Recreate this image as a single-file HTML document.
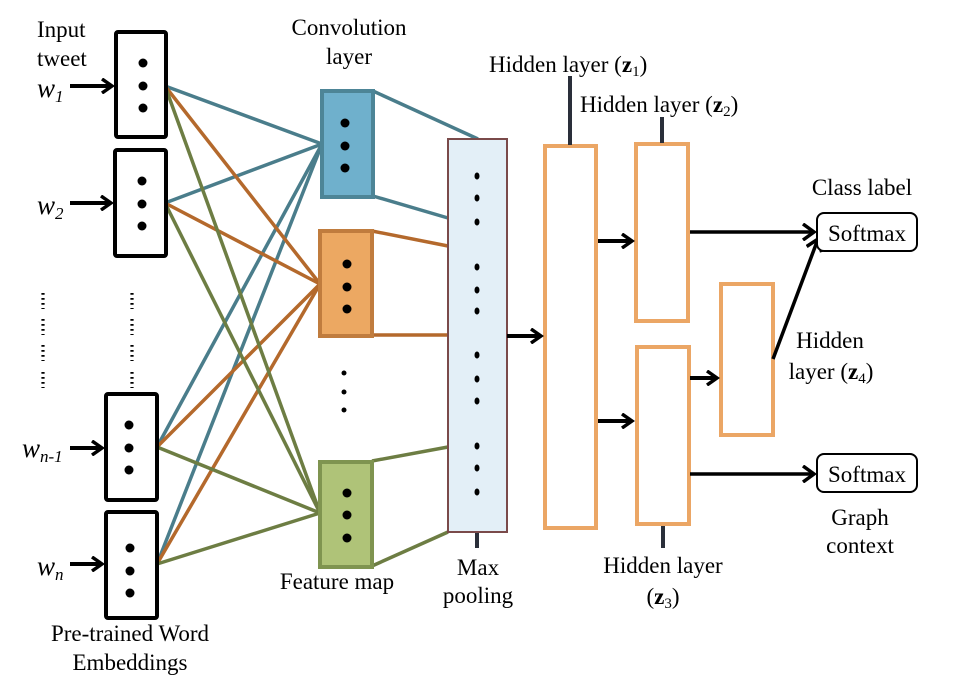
<!DOCTYPE html>
<html><head><meta charset="utf-8"><style>
html,body{margin:0;padding:0;background:#fff;}
#wrap{position:relative;width:972px;height:682px;overflow:hidden;}
svg{display:block;position:absolute;left:0;top:0;}
.t{position:absolute;font-family:"Liberation Serif","Times New Roman",serif;font-size:23px;line-height:23px;color:#000;white-space:nowrap;}
.c{width:200px;text-align:center;}
.w{font-style:italic;font-size:27px;line-height:27px;}
.w span{font-size:17px;position:relative;top:5px;}
.s{font-size:15px;position:relative;top:4px;}
b{font-weight:bold;}
</style></head><body>
<div id="wrap">
<svg width="972" height="682" viewBox="0 0 972 682" xmlns="http://www.w3.org/2000/svg">
<defs>
<marker id="ah" markerWidth="14" markerHeight="16" refX="11" refY="8" orient="auto" markerUnits="userSpaceOnUse">
<path d="M1,1 L11,8 L1,15" fill="none" stroke="#000" stroke-width="3.5"/>
</marker>
<marker id="ah2" markerWidth="16" markerHeight="18" refX="13" refY="9" orient="auto" markerUnits="userSpaceOnUse">
<path d="M2,1 L13,9 L2,17" fill="none" stroke="#000" stroke-width="3.5"/>
</marker>
</defs>

<g stroke-width="3.5" fill="none">
<g stroke="#4a7d8b">
<line x1="165" y1="86" x2="322" y2="144"/><line x1="165" y1="203" x2="322" y2="144"/>
<line x1="157" y1="447" x2="322" y2="144"/><line x1="157" y1="564" x2="322" y2="144"/>
<line x1="373" y1="91" x2="478" y2="139"/><line x1="373" y1="196" x2="448" y2="218"/>
</g>
<g stroke="#b4692c">
<line x1="165" y1="86" x2="320" y2="284"/><line x1="165" y1="203" x2="320" y2="284"/>
<line x1="157" y1="447" x2="320" y2="284"/><line x1="157" y1="564" x2="320" y2="284"/>
<line x1="372" y1="231" x2="448" y2="246"/><line x1="372" y1="335" x2="448" y2="335"/>
</g>
<g stroke="#6d7d43">
<line x1="165" y1="86" x2="320" y2="513"/><line x1="165" y1="203" x2="320" y2="513"/>
<line x1="157" y1="447" x2="320" y2="513"/><line x1="157" y1="564" x2="320" y2="513"/>
<line x1="372" y1="461" x2="448" y2="447"/><line x1="372" y1="566" x2="448" y2="532"/>
</g>
</g>

<g fill="#fff" stroke="#000" stroke-width="4">
<rect x="116" y="32" width="50" height="105" rx="2"/>
<rect x="115" y="150" width="51" height="106" rx="2"/>
<rect x="106" y="394" width="51" height="106" rx="2"/>
<rect x="106" y="512" width="51" height="106" rx="2"/>
</g>
<g fill="#000">
<circle cx="143" cy="63" r="4.5"/><circle cx="143" cy="86" r="4.5"/><circle cx="143" cy="108" r="4.5"/>
<circle cx="142" cy="181" r="4.5"/><circle cx="142" cy="204" r="4.5"/><circle cx="142" cy="226" r="4.5"/>
<circle cx="129" cy="425" r="4.5"/><circle cx="129" cy="448" r="4.5"/><circle cx="129" cy="470" r="4.5"/>
<circle cx="130" cy="548" r="4.5"/><circle cx="130" cy="571" r="4.5"/><circle cx="130" cy="593" r="4.5"/>
</g>
<g stroke="#000" stroke-width="4" marker-end="url(#ah)">
<line x1="70" y1="86" x2="112" y2="86"/>
<line x1="70" y1="203" x2="111" y2="203"/>
<line x1="70" y1="448" x2="102" y2="448"/>
<line x1="70" y1="564" x2="102" y2="564"/>
</g>
<g stroke="#000" stroke-width="3.2" stroke-dasharray="1.8,3.2" fill="none">
<line x1="43" y1="293" x2="43" y2="309"/><line x1="43" y1="319" x2="43" y2="335"/><line x1="43" y1="345" x2="43" y2="361"/><line x1="43" y1="372" x2="43" y2="388"/>
<line x1="132" y1="293" x2="132" y2="309"/><line x1="132" y1="319" x2="132" y2="335"/><line x1="132" y1="345" x2="132" y2="361"/><line x1="132" y1="372" x2="132" y2="388"/>
</g>

<rect x="322" y="91" width="51" height="106" fill="#6fb0cc" stroke="#4d8597" stroke-width="4"/>
<rect x="320" y="231" width="52" height="105" fill="#eca862" stroke="#c07c3e" stroke-width="4"/>
<rect x="320" y="462" width="52" height="105" fill="#afc378" stroke="#7f9450" stroke-width="4"/>
<g fill="#000">
<circle cx="345" cy="123" r="4.5"/><circle cx="345" cy="146" r="4.5"/><circle cx="345" cy="168" r="4.5"/>
<circle cx="347" cy="264" r="4.5"/><circle cx="347" cy="287" r="4.5"/><circle cx="347" cy="309" r="4.5"/>
<circle cx="347" cy="493" r="4.5"/><circle cx="347" cy="515" r="4.5"/><circle cx="347" cy="538" r="4.5"/>
<circle cx="344" cy="373" r="2.5"/><circle cx="344" cy="392" r="2.5"/><circle cx="344" cy="410" r="2.5"/>
</g>

<rect x="448" y="139" width="59" height="393" fill="#e3eff7" stroke="#7a4a4a" stroke-width="2"/>
<g fill="#000">
<ellipse cx="477" cy="176" rx="2.5" ry="3.5"/><ellipse cx="477" cy="198" rx="2.5" ry="3.5"/><ellipse cx="477" cy="222" rx="2.5" ry="3.5"/>
<ellipse cx="477" cy="267" rx="2.5" ry="3.5"/><ellipse cx="477" cy="290" rx="2.5" ry="3.5"/><ellipse cx="477" cy="311" rx="2.5" ry="3.5"/>
<ellipse cx="477" cy="355" rx="2.5" ry="3.5"/><ellipse cx="477" cy="379" rx="2.5" ry="3.5"/><ellipse cx="477" cy="401" rx="2.5" ry="3.5"/>
<ellipse cx="477" cy="446" rx="2.5" ry="3.5"/><ellipse cx="477" cy="468" rx="2.5" ry="3.5"/><ellipse cx="477" cy="492" rx="2.5" ry="3.5"/>
</g>

<g fill="#fff" stroke="#eba665" stroke-width="4">
<rect x="545" y="146" width="51" height="382"/>
<rect x="636" y="144" width="52" height="177"/>
<rect x="637" y="347" width="52" height="177"/>
<rect x="721" y="284" width="52" height="151"/>
</g>
<g stroke="#2a2f3a" stroke-width="4">
<line x1="570" y1="76" x2="570" y2="145"/>
<line x1="662" y1="117" x2="662" y2="143"/>
<line x1="663" y1="526" x2="663" y2="548"/>
<line x1="477" y1="533" x2="477" y2="548"/>
</g>
<g stroke="#000" stroke-width="4" fill="none" marker-end="url(#ah)">
<line x1="507" y1="336" x2="541" y2="336"/>
<line x1="598" y1="241" x2="632" y2="241"/>
<line x1="598" y1="421" x2="632" y2="421"/>
<line x1="690" y1="378" x2="717" y2="378"/>
</g>
<g stroke="#000" stroke-width="3.5" fill="none" marker-end="url(#ah2)">
<line x1="690" y1="232" x2="814" y2="232"/>
<line x1="773" y1="359" x2="818" y2="239"/>
<line x1="690" y1="474" x2="814" y2="474"/>
</g>
<rect x="817" y="213" width="100" height="38" rx="7" fill="#fff" stroke="#000" stroke-width="2"/>
<rect x="817" y="454" width="100" height="38" rx="7" fill="#fff" stroke="#000" stroke-width="2"/>
</svg>

<div class="t c" style="left:767px;top:222px">Softmax</div>
<div class="t c" style="left:767px;top:463px">Softmax</div>
<div class="t" style="left:37px;top:18px">Input</div>
<div class="t" style="left:37px;top:47px">tweet</div>
<div class="t w" style="left:37px;top:75px">w<span>1</span></div>
<div class="t w" style="left:37px;top:192px">w<span>2</span></div>
<div class="t w" style="left:22px;top:435px">w<span>n-1</span></div>
<div class="t w" style="left:37px;top:553px">w<span>n</span></div>
<div class="t c" style="left:249px;top:16px">Convolution</div>
<div class="t c" style="left:249px;top:45px">layer</div>
<div class="t c" style="left:30px;top:622px">Pre-trained Word</div>
<div class="t c" style="left:30px;top:651px">Embeddings</div>
<div class="t c" style="left:237px;top:570px">Feature map</div>
<div class="t c" style="left:378px;top:556px">Max</div>
<div class="t c" style="left:378px;top:584px">pooling</div>
<div class="t" style="left:489px;top:53px">Hidden layer (<b>z</b><span class="s">1</span>)</div>
<div class="t" style="left:580px;top:93px">Hidden layer (<b>z</b><span class="s">2</span>)</div>
<div class="t c" style="left:563px;top:554px">Hidden layer</div>
<div class="t c" style="left:563px;top:585px">(<b>z</b><span class="s">3</span>)</div>
<div class="t c" style="left:730px;top:329px">Hidden</div>
<div class="t c" style="left:731px;top:360px">layer (<b>z</b><span class="s">4</span>)</div>
<div class="t c" style="left:762px;top:176px">Class label</div>
<div class="t c" style="left:760px;top:506px">Graph</div>
<div class="t c" style="left:760px;top:534px">context</div>
</div>
</body></html>
